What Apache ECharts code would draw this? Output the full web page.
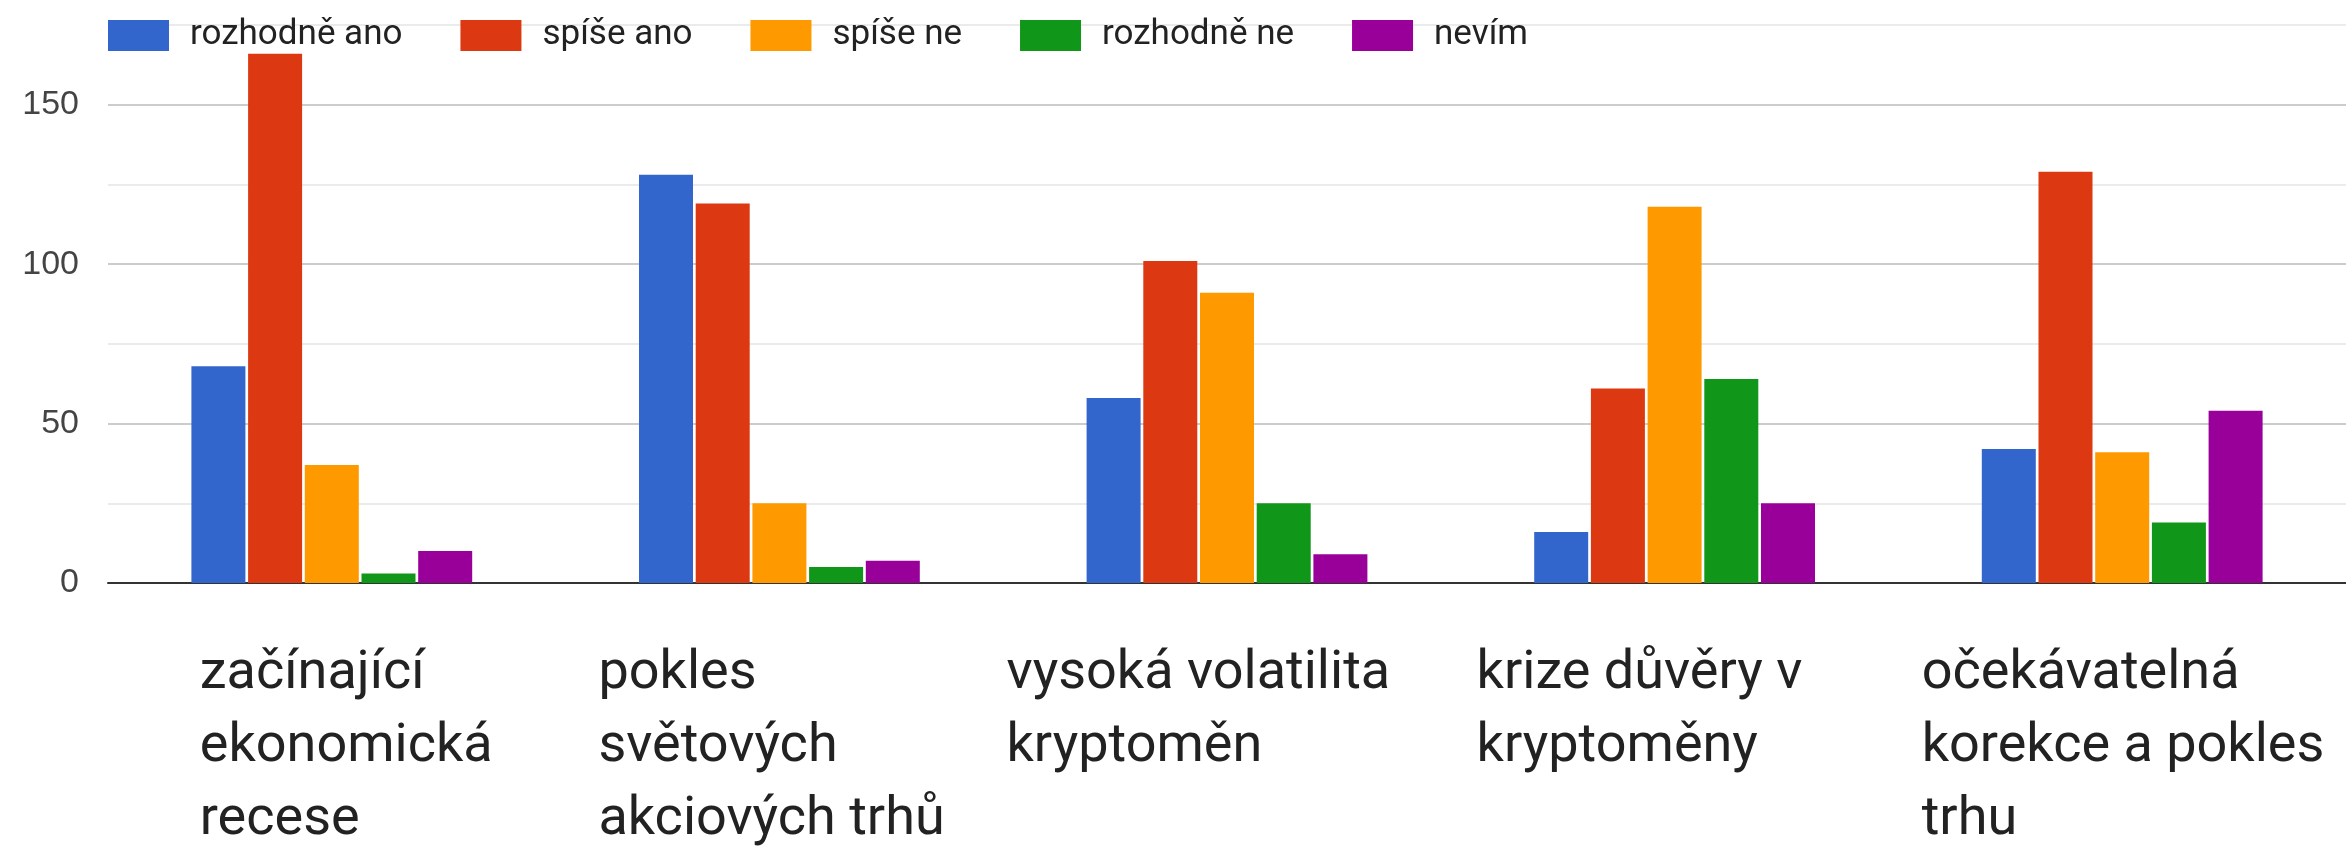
<!DOCTYPE html>
<html>
<head>
<meta charset="utf-8">
<script src="https://cdn.jsdelivr.net/npm/echarts@6/dist/echarts.min.js"></script>
<style>
html,body{margin:0;padding:0;background:#fff;}
#chart{width:2346px;height:848px;}
</style>
</head>
<body>
<div id="chart"></div>
<script>
const categories = [
  'začínající\nekonomická\nrecese',
  'pokles\nsvětových\nakciových trhů',
  'vysoká volatilita\nkryptoměn',
  'krize důvěry v\nkryptoměny',
  'očekávatelná\nkorekce a pokles\ntrhu'
];
const seriesNames = ['rozhodně ano', 'spíše ano', 'spíše ne', 'rozhodně ne', 'nevím'];
const rozhodneAno = [68, 128, 58, 16, 42];
const spiseAno = [166, 119, 101, 61, 129];
const spiseNe = [37, 25, 91, 118, 41];
const rozhodneNe = [3, 5, 25, 64, 19];
const nevim = [10, 7, 9, 25, 54];
const yTickLabels = [0, 50, 100, 150];

const seriesValues = [rozhodneAno, spiseAno, spiseNe, rozhodneNe, nevim];
const colors = ['#3366cc', '#dc3912', '#ff9900', '#109618', '#990099'];
const labelWidths = [264, 362, 441, 396, 401];

const rich = {};
labelWidths.forEach(function (w, i) {
  rich['c' + i] = {
    width: w, align: 'left', fontSize: 54, lineHeight: 73,
    color: '#222', fontFamily: 'Roboto'
  };
});

const chart = echarts.init(document.getElementById('chart'), null, {renderer: 'canvas'});
chart.setOption({
  animation: false,
  backgroundColor: '#ffffff',
  color: colors,
  legend: {
    left: 103, top: 13,
    icon: 'rect',
    itemWidth: 61, itemHeight: 31,
    itemGap: 58,
    textStyle: {fontFamily: 'Roboto', fontSize: 35, color: '#222', padding: [0, 0, 0, 16]},
    data: seriesNames
  },
  grid: {left: 108, right: 0, top: 25, bottom: 265, containLabel: false},
  xAxis: {
    type: 'category',
    data: categories,
    axisTick: {show: false},
    axisLine: {show: true, onZero: true, lineStyle: {color: '#333', width: 2}},
    splitLine: {show: false},
    axisLabel: {
      interval: 0,
      margin: 55,
      align: 'center',
      formatter: function (value, index) {
        return value.split('\n').map(function (l) { return '{c' + index + '|' + l + '}'; }).join('\n');
      },
      rich: rich
    }
  },
  yAxis: {
    type: 'value',
    min: 0, max: 175, interval: 25,
    axisLine: {show: false},
    axisTick: {show: false},
    axisLabel: {
      margin: 29,
      fontFamily: 'Liberation Sans, Arial',
      fontSize: 34,
      color: '#444',
      formatter: function (v) { return yTickLabels.indexOf(v) >= 0 ? String(v) : ''; }
    },
    splitLine: {show: true, lineStyle: {color: ['#cccccc', '#ebebeb'], width: 2}}
  },
  series: seriesValues.map(function (vals, i) {
    return {
      name: seriesNames[i],
      type: 'bar',
      data: vals,
      barWidth: 54,
      barGap: '5%',
      itemStyle: {color: colors[i]}
    };
  })
});
</script>
</body>
</html>
